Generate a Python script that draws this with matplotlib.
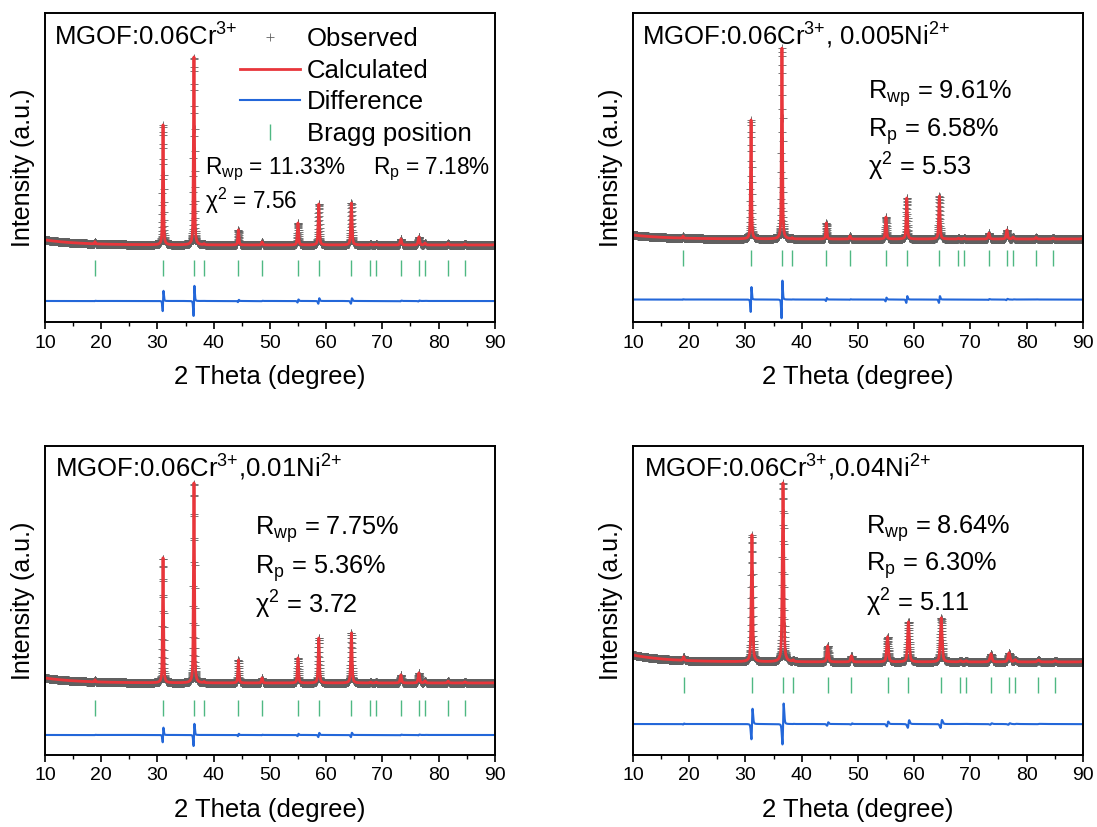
import numpy as np
import matplotlib.pyplot as plt
from matplotlib.ticker import MultipleLocator

plt.rcParams['font.family'] = ['Liberation Sans', 'DejaVu Sans']
plt.rcParams['mathtext.default'] = 'regular'

# Bragg reflections of the spinel phase, 2theta in degree
bragg = [18.9, 31.0, 36.5, 38.3, 44.4, 48.6, 55.0, 58.7, 64.5, 67.9, 68.9,
         73.3, 76.5, 77.6, 81.7, 84.7]

# refined peak heights at each reflection (strongest = 100)
h_cr = [1.1, 63.8, 100, 0.5, 8.0, 1.6, 11.7, 21.8, 22.3, 0.4, 0.4, 3.2, 4.3, 1.0, 0.8, 0.5]
h_ni005 = [1.0, 62.3, 100, 0.5, 8.4, 1.6, 11.5, 21.5, 22.5, 0.4, 0.4, 3.1, 4.7, 1.0, 0.8, 0.5]
h_ni01 = [1.0, 62.5, 100, 0.5, 11.5, 2.5, 12.5, 22.5, 25.0, 0.4, 0.4, 4.0, 5.0, 1.0, 0.9, 0.5]
h_ni04 = [2.0, 71.0, 100, 0.8, 8.9, 3.4, 14.0, 22.4, 24.6, 0.6, 0.6, 4.5, 5.0, 1.2, 1.0, 0.6]
heights = [h_cr, h_ni005, h_ni01, h_ni04]

# per sample: lattice scale on 2theta, peak width at 30 deg, background rise at 10 deg,
# misfit shift between observed and calculated peaks
pos_scale = [1.0, 1.0, 1.0, 1.005]
fwhm0 = [0.20, 0.20, 0.20, 0.28]
bg_rise = [2.7, 2.1, 2.5, 3.9]
misfit = [0.013, 0.016, 0.009, 0.026]
edge_h = [2.0, 3.0, 1.5, 1.5]   # reflection just beyond 90 deg

titles = ['MGOF:0.06Cr$^{3{+}}$',
          'MGOF:0.06Cr$^{3{+}}$, 0.005Ni$^{2{+}}$',
          'MGOF:0.06Cr$^{3{+}}$,0.01Ni$^{2{+}}$',
          'MGOF:0.06Cr$^{3{+}}$,0.04Ni$^{2{+}}$']
rwp = ['11.33%', '9.61%', '7.75%', '8.64%']
rp = ['7.18%', '6.58%', '5.36%', '6.30%']
chi2 = ['7.56', '5.53', '3.72', '5.11']

# plot layout per panel
axes_rect = [[0.041, 0.6106, 0.410, 0.3736],
             [0.577, 0.6106, 0.410, 0.3736],
             [0.041, 0.0871, 0.410, 0.3736],
             [0.577, 0.0871, 0.410, 0.3736]]
ylims = [(-41.0, 123.4), (-43.5, 118.4), (-36.0, 118.5), (-52.0, 120.7)]
bragg_y = [-12.0, -9.7, -12.75, -13.1]
diff_y = [-29.8, -31.7, -26.0, -34.7]
# text anchors in axes fraction: title, Rwp, Rp, chi2
title_xy = [(0.020, 0.896), (0.021, 0.896), (0.022, 0.900), (0.025, 0.900)]
rwp_xy = [(0.356, 0.480), (0.523, 0.723), (0.467, 0.713), (0.518, 0.717)]
rp_xy = [(0.729, 0.480), (0.523, 0.600), (0.467, 0.587), (0.518, 0.597)]
chi_xy = [(0.356, 0.366), (0.523, 0.473), (0.467, 0.457), (0.518, 0.463)]
stat_size = [16.3, 18.3, 18.3, 18.3]

tt = np.arange(10, 90.001, 0.02)


def pseudo_voigt(x, c, h, w, eta=0.5):
    g = np.exp(-4 * np.log(2) * ((x - c) / w) ** 2)
    l = 1 / (1 + 4 * ((x - c) / w) ** 2)
    return h * (eta * l + (1 - eta) * g)


def pattern(x, centers, hs, w0, rise, shift=0.0):
    y = rise * np.exp(-(x - 10) / 6.0)
    for c, h in zip(centers, hs):
        w = w0 * (0.7 + 0.01 * c)
        y = y + pseudo_voigt(x, c + shift, h, w)
    return y


fig = plt.figure(figsize=(10.97, 8.27), dpi=100)

for i in range(4):
    ax = fig.add_axes(axes_rect[i])
    centers = [b * pos_scale[i] for b in bragg] + [90.3]
    hs = heights[i] + [edge_h[i]]
    calc = pattern(tt, centers, hs, fwhm0[i], bg_rise[i])
    obs = pattern(tt, centers, hs, fwhm0[i], bg_rise[i], shift=misfit[i])

    ax.plot(tt, obs, ls='none', marker='+', ms=6, mew=0.6, color='#606060',
            label='Observed', zorder=1)
    ax.plot(tt, calc, color='#e8363b', lw=2.0, label='Calculated', zorder=2)
    ax.plot(tt, diff_y[i] + obs - calc, color='#2367d9', lw=1.5,
            label='Difference', zorder=2)
    bp = [b * pos_scale[i] for b in bragg]
    ax.plot(bp, [bragg_y[i]] * len(bp), ls='none', marker='|', ms=11, mew=1.0,
            color='#4fb883', label='Bragg position', zorder=2)

    ax.set_xlim(10, 90)
    ax.set_ylim(*ylims[i])
    ax.set_yticks([])
    ax.xaxis.set_major_locator(MultipleLocator(10))
    ax.xaxis.set_minor_locator(MultipleLocator(5))
    ax.tick_params(axis='x', which='major', direction='out', length=5, width=1.2,
                   labelsize=14, pad=4)
    ax.tick_params(axis='x', which='minor', direction='out', length=3, width=1.0)
    for s in ax.spines.values():
        s.set_linewidth(1.4)
    ax.set_xlabel('2 Theta (degree)', fontsize=18.5, labelpad=10)
    ax.set_ylabel('Intensity (a.u.)', fontsize=18, labelpad=7)

    ax.text(*title_xy[i], titles[i], transform=ax.transAxes, fontsize=18.5,
            va='baseline', ha='left')
    ax.text(*rwp_xy[i], 'R$_{wp}$ = ' + rwp[i], transform=ax.transAxes,
            fontsize=stat_size[i], va='baseline', ha='left')
    ax.text(*rp_xy[i], 'R$_{p}$ = ' + rp[i], transform=ax.transAxes,
            fontsize=stat_size[i], va='baseline', ha='left')
    ax.text(*chi_xy[i], 'χ$^{2}$ = ' + chi2[i], transform=ax.transAxes,
            fontsize=stat_size[i], va='baseline', ha='left')

    if i == 0:
        ax.legend(loc='upper left', bbox_to_anchor=(0.433, 0.955), frameon=False,
                  fontsize=18.5, borderpad=0, borderaxespad=0, labelspacing=0.30,
                  handlelength=2.33, handletextpad=0.27, markerscale=1.0)

fig.savefig('out.png', dpi=100)
